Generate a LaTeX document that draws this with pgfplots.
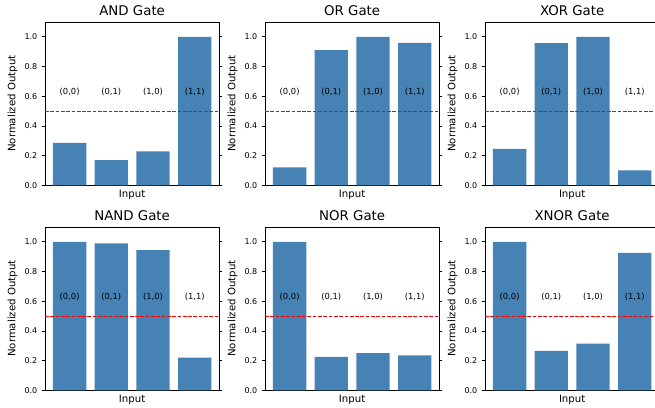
\documentclass[border=0pt]{standalone}
\usepackage{fontspec}
\setmainfont{DejaVu Sans}
\usepackage{pgfplots}
\pgfplotsset{compat=1.18}
\definecolor{barblue}{HTML}{4682B4}
\definecolor{threshred}{HTML}{FF0000}

\pgfplotsset{
  gate/.style={
    scale only axis, width=174.3bp, height=163.3bp, anchor=south west,
    xmin=-0.59, xmax=3.59, ymin=0, ymax=1.1,
    xtick=\empty, ytick={0,0.2,0.4,0.6,0.8,1.0},
    tick align=outside, major tick length=3bp,
    axis line style={line width=0.8bp},
    every tick/.style={black, line width=0.8bp},
    yticklabel style={font=\fontsize{8}{9.6}\selectfont, xshift=-1.3bp},
    /pgf/number format/fixed, /pgf/number format/fixed zerofill,
    /pgf/number format/precision=1, /pgf/number format/assume math mode=true,
    every axis title shift=0pt,
    title style={font=\fontsize{13.4}{16}\selectfont, at={(axis description cs:0.5,1.037)}, anchor=base},
    xlabel={Input}, ylabel={Normalized Output},
    label style={font=\fontsize{10.2}{12}\selectfont},
    xlabel style={at={(axis description cs:0.5,-0.0735)}, anchor=base},
    ylabel style={at={(axis description cs:-0.17,0.5)}, anchor=base},
    ybar, bar width=0.8,
  },
  gatebars/.style={fill=barblue, draw=none},
}

% threshold line and the four input labels
\newcommand{\threshandlabels}{%
  \draw[threshred, line width=1bp, dash pattern=on 3.7bp off 1.6bp]
    (axis cs:-0.59,0.5) -- (axis cs:3.59,0.5);
  \node[font=\fontsize{8.4}{10}\selectfont] at (axis cs:0,0.63) {(0,0)};
  \node[font=\fontsize{8.4}{10}\selectfont] at (axis cs:1,0.63) {(0,1)};
  \node[font=\fontsize{8.4}{10}\selectfont] at (axis cs:2,0.63) {(1,0)};
  \node[font=\fontsize{8.4}{10}\selectfont] at (axis cs:3,0.63) {(1,1)};
}

\begin{document}
\begin{tikzpicture}
\useasboundingbox (0,0) rectangle (655bp,408bp);

% top row
\begin{axis}[gate, at={(45bp,222.7bp)}, title={AND Gate}]
\addplot[gatebars] coordinates {(0,0.285)(1,0.170)(2,0.228)(3,1.000)};
\threshandlabels
\end{axis}

\begin{axis}[gate, at={(265bp,222.7bp)}, title={OR Gate}]
\addplot[gatebars] coordinates {(0,0.120)(1,0.910)(2,1.000)(3,0.960)};
\threshandlabels
\end{axis}

\begin{axis}[gate, at={(485bp,222.7bp)}, title={XOR Gate}]
\addplot[gatebars] coordinates {(0,0.245)(1,0.958)(2,1.000)(3,0.100)};
\threshandlabels
\end{axis}

% bottom row
\begin{axis}[gate, at={(45bp,17.7bp)}, title={NAND Gate}]
\addplot[gatebars] coordinates {(0,1.000)(1,0.990)(2,0.945)(3,0.220)};
\threshandlabels
\end{axis}

\begin{axis}[gate, at={(265bp,17.7bp)}, title={NOR Gate}]
\addplot[gatebars] coordinates {(0,1.000)(1,0.225)(2,0.250)(3,0.235)};
\threshandlabels
\end{axis}

\begin{axis}[gate, at={(485bp,17.7bp)}, title={XNOR Gate}]
\addplot[gatebars] coordinates {(0,1.000)(1,0.265)(2,0.315)(3,0.925)};
\threshandlabels
\end{axis}
\end{tikzpicture}
\end{document}
